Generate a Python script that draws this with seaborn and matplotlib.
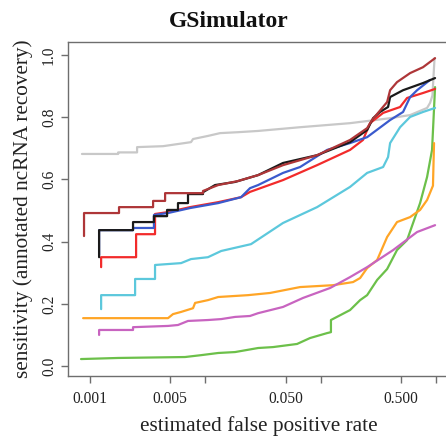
import pandas as pd
import seaborn as sns
import matplotlib.pyplot as plt

# values (fpr on log scale, sensitivity)
gray_fpr = [0.00086, 0.00177, 0.00177, 0.00258, 0.00258, 0.00433, 0.00756, 0.00787, 0.0106, 0.0135,
            0.0193, 0.0288, 0.0665, 0.180, 0.400, 0.596, 0.836, 0.887, 0.93, 0.97]
gray_sens = [0.682, 0.682, 0.687, 0.687, 0.704, 0.707, 0.720, 0.730, 0.740, 0.749,
             0.752, 0.756, 0.768, 0.781, 0.797, 0.807, 0.830, 0.846, 0.870, 0.990]

darkred_fpr = [0.000896, 0.000896, 0.0018, 0.0018, 0.00355, 0.00355, 0.00451, 0.00451, 0.0096, 0.0096,
               0.0130, 0.0193, 0.0288, 0.0473, 0.0933, 0.180, 0.253, 0.279, 0.377, 0.400,
               0.459, 0.596, 0.771, 0.98]
darkred_sens = [0.418, 0.492, 0.492, 0.511, 0.511, 0.531, 0.531, 0.556, 0.556, 0.563,
                0.582, 0.595, 0.614, 0.646, 0.678, 0.727, 0.765, 0.791, 0.849, 0.887,
                0.913, 0.942, 0.961, 0.990]

black_fpr = [0.00121, 0.00121, 0.00238, 0.00238, 0.00361, 0.00361, 0.00469, 0.00469, 0.00583, 0.00583,
             0.00712, 0.00712, 0.0096, 0.0096, 0.0122, 0.0182, 0.0288, 0.0473, 0.0933, 0.180,
             0.253, 0.285, 0.327, 0.384, 0.400, 0.518, 0.771, 0.98]
black_sens = [0.350, 0.437, 0.437, 0.463, 0.463, 0.482, 0.482, 0.502, 0.502, 0.524,
              0.524, 0.553, 0.553, 0.559, 0.582, 0.592, 0.614, 0.653, 0.678, 0.720,
              0.759, 0.797, 0.817, 0.833, 0.865, 0.887, 0.910, 0.926]

blue_fpr = [0.00121, 0.00121, 0.00238, 0.00238, 0.00361, 0.00361, 0.00478, 0.00741, 0.0130, 0.0205,
            0.0245, 0.0288, 0.0473, 0.0665, 0.114, 0.180, 0.253, 0.400, 0.518, 0.596,
            0.685, 0.887]
blue_sens = [0.357, 0.437, 0.437, 0.444, 0.444, 0.486, 0.492, 0.508, 0.524, 0.543,
             0.572, 0.582, 0.621, 0.640, 0.695, 0.717, 0.736, 0.791, 0.817, 0.865,
             0.887, 0.920]

red_fpr = [0.00126, 0.00126, 0.00253, 0.00253, 0.00369, 0.00369, 0.00478, 0.00741, 0.0130, 0.0205,
           0.0245, 0.0473, 0.0933, 0.180, 0.233, 0.268, 0.348, 0.488, 0.561, 0.771, 0.98]
red_sens = [0.318, 0.350, 0.350, 0.424, 0.424, 0.489, 0.495, 0.511, 0.527, 0.543,
            0.560, 0.598, 0.646, 0.695, 0.727, 0.781, 0.814, 0.833, 0.862, 0.878, 0.891]

cyan_fpr = [0.00126, 0.00126, 0.00248, 0.00248, 0.00369, 0.00369, 0.0062, 0.00756, 0.0106, 0.0138,
            0.0250, 0.0473, 0.0933, 0.180, 0.253, 0.348, 0.384, 0.400, 0.488, 0.596, 0.771, 0.98]
cyan_sens = [0.183, 0.228, 0.228, 0.280, 0.280, 0.325, 0.331, 0.344, 0.350, 0.370,
             0.392, 0.460, 0.511, 0.576, 0.621, 0.640, 0.672, 0.717, 0.768, 0.801, 0.817, 0.830]

orange_fpr = [0.00088, 0.00478, 0.00528, 0.0062, 0.00787, 0.0082, 0.0106, 0.0130, 0.0236, 0.0365,
              0.0665, 0.128, 0.191, 0.220, 0.253, 0.309, 0.377, 0.459, 0.596, 0.727,
              0.836, 0.94, 0.96]
orange_sens = [0.154, 0.154, 0.167, 0.174, 0.186, 0.203, 0.212, 0.222, 0.228, 0.235,
               0.254, 0.260, 0.270, 0.283, 0.315, 0.341, 0.415, 0.463, 0.479, 0.502,
               0.534, 0.580, 0.717]

magenta_fpr = [0.00121, 0.00121, 0.00238, 0.00238, 0.00478, 0.00583, 0.00712, 0.0106, 0.0138, 0.0182,
               0.0245, 0.0288, 0.0473, 0.0705, 0.121, 0.180, 0.253, 0.425, 0.685, 0.98]
magenta_sens = [0.100, 0.116, 0.116, 0.125, 0.129, 0.132, 0.145, 0.148, 0.151, 0.158,
                0.161, 0.170, 0.190, 0.219, 0.251, 0.286, 0.318, 0.373, 0.431, 0.453]

green_fpr = [0.000844, 0.00177, 0.00671, 0.00923, 0.0130, 0.0182, 0.0288, 0.0388, 0.0626, 0.081,
             0.114, 0.123, 0.123, 0.180, 0.220, 0.253, 0.309, 0.377, 0.459, 0.561,
             0.727, 0.836, 0.923, 0.98]
green_sens = [0.0225, 0.026, 0.029, 0.035, 0.042, 0.045, 0.058, 0.061, 0.071, 0.090,
              0.106, 0.109, 0.148, 0.180, 0.212, 0.228, 0.277, 0.312, 0.373, 0.405,
              0.524, 0.608, 0.695, 0.897]

# drawing order (first is underneath)
series = [
    ('gray', gray_fpr, gray_sens),
    ('green', green_fpr, green_sens),
    ('orange', orange_fpr, orange_sens),
    ('magenta', magenta_fpr, magenta_sens),
    ('cyan', cyan_fpr, cyan_sens),
    ('red', red_fpr, red_sens),
    ('blue', blue_fpr, blue_sens),
    ('black', black_fpr, black_sens),
    ('darkred', darkred_fpr, darkred_sens),
]

palette = {
    'gray': '#C8C8C8',
    'green': '#6CC04A',
    'orange': '#FFA526',
    'magenta': '#C864C0',
    'cyan': '#5CC8DC',
    'red': '#F22B2B',
    'blue': '#3A5ACD',
    'black': '#1A1A1A',
    'darkred': '#AE3638',
}

frames = []
for name, fpr, sens in series:
    frames.append(pd.DataFrame({'fpr': fpr, 'sens': sens, 'method': name}))
df = pd.concat(frames, ignore_index=True)

sns.set_style('ticks')
plt.rcParams['font.family'] = ['Liberation Serif', 'DejaVu Serif']

fig = plt.figure(figsize=(4.46, 4.44), dpi=100)
ax = fig.add_axes([68 / 446, 1 - 376 / 444, (450 - 68) / 446, (376 - 42) / 444])

sns.lineplot(data=df, x='fpr', y='sens', hue='method', palette=palette,
             estimator=None, sort=False, legend=False, linewidth=1.6, ax=ax)

ax.set_xscale('log')
ax.set_xlim(0.000651, 1.32)
ax.set_ylim(-0.032, 1.042)

xticks = [0.001, 0.005, 0.01, 0.05, 0.1, 0.5, 1.0]
xlabels = ['0.001', '0.005', '', '0.050', '', '0.500', '']
ax.set_xticks(xticks)
ax.set_xticklabels(xlabels)
ax.minorticks_off()
yticks = [0.0, 0.2, 0.4, 0.6, 0.8, 1.0]
ax.set_yticks(yticks)
ax.set_yticklabels(['0.0', '0.2', '0.4', '0.6', '0.8', '1.0'], rotation=90, va='center')

for s in ax.spines.values():
    s.set_color('#6e6e6e')
    s.set_linewidth(1.0)
ax.tick_params(axis='both', length=5, width=1.0, color='#6e6e6e', labelsize=11.2, labelcolor='#222222')
ax.tick_params(axis='x', pad=6)
ax.tick_params(axis='y', pad=3)

ax.set_xlabel('estimated false positive rate', fontsize=15.3, color='#222222', labelpad=6)
ax.set_ylabel('sensitivity (annotated ncRNA recovery)', fontsize=15.3, color='#222222', labelpad=6)

fig.text(229 / 446, 1 - 27 / 444, 'GSimulator', ha='center', va='baseline',
         fontsize=17, fontweight='bold', color='#111111')

fig.savefig('out.png', dpi=100)
